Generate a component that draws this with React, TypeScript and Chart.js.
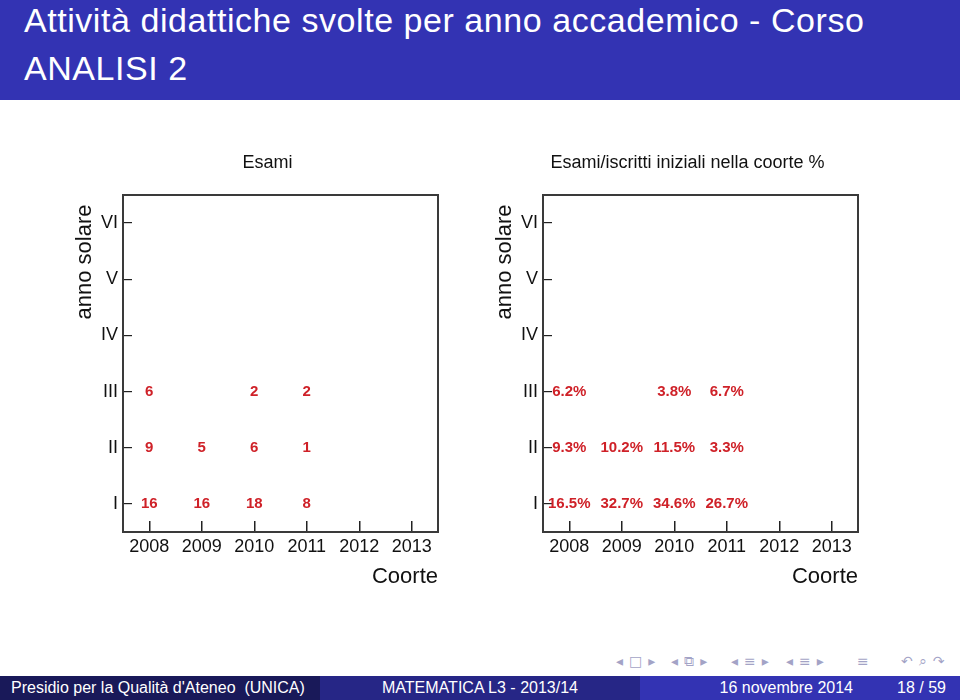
import React, { useEffect, useRef } from "react";
import { Chart, registerables } from "chart.js";

Chart.register(...registerables);

// ---- data ----
const cohorts = [2008, 2009, 2010, 2011, 2012, 2013];
const yearLabels = ["I", "II", "III", "IV", "V", "VI"];

const examsYearI = [16, 16, 18, 8];
const examsYearII = [9, 5, 6, 1];
const examsYearIII = [6, null, 2, 2];

const pctYearI = [16.5, 32.7, 34.6, 26.7];
const pctYearII = [9.3, 10.2, 11.5, 3.3];
const pctYearIII = [6.2, null, 3.8, 6.7];

const leftTitle = "Esami";
const rightTitle = "Esami/iscritti iniziali nella coorte %";
const yTitle = "anno solare";
const xTitle = "Coorte";

const slideTitle1 = "Attività didattiche svolte per anno accademico - Corso";
const slideTitle2 = "ANALISI 2";
const footLeft = "Presidio per la Qualità d'Ateneo  (UNICA)";
const footMid = "MATEMATICA L3 - 2013/14";
const footDate = "16 novembre 2014";
const footPage = "18 / 59";

const PLOT_FONT = '"Liberation Sans", Arial, Helvetica, sans-serif';
const SLIDE_FONT = '"Liberation Sans", Arial, sans-serif';
const RED = "#cf2128";
const INK = "#111111";

type Row = (number | null)[];

function buildPoints(rows: Row[]) {
  const pts: { x: number; y: number; v: number }[] = [];
  rows.forEach((row, r) =>
    row.forEach((v, i) => {
      if (v != null) pts.push({ x: cohorts[i], y: r + 1, v });
    })
  );
  return pts;
}

function CohortChart(props: {
  left: number;
  title: string;
  rows: Row[];
  format: (v: number) => string;
}) {
  const ref = useRef<HTMLCanvasElement | null>(null);
  useEffect(() => {
    const fmt = props.format;
    const chartTitle = props.title;
    const decorations = {
      id: "decorations",
      afterDraw(chart: any) {
        const { ctx, chartArea } = chart;
        ctx.save();
        ctx.strokeStyle = "#3a3a3a";
        ctx.lineWidth = 2;
        ctx.strokeRect(
          chartArea.left,
          chartArea.top,
          chartArea.right - chartArea.left,
          chartArea.bottom - chartArea.top
        );
        ctx.fillStyle = INK;
        ctx.font = `18px ${PLOT_FONT}`;
        ctx.textAlign = "center";
        ctx.textBaseline = "middle";
        ctx.fillText(chartTitle, (chartArea.left + chartArea.right) / 2 - 13, chartArea.top - 32);
        ctx.font = `22px ${PLOT_FONT}`;
        ctx.translate(chartArea.left - 38, chartArea.top + 67);
        ctx.rotate(-Math.PI / 2);
        ctx.textAlign = "center";
        ctx.textBaseline = "middle";
        ctx.fillText(yTitle, 0, 0);
        ctx.restore();
      },
    };
    const valueLabels = {
      id: "valueLabels",
      afterDatasetsDraw(chart: any) {
        const ctx = chart.ctx;
        const meta = chart.getDatasetMeta(0);
        const data = chart.data.datasets[0].data;
        ctx.save();
        ctx.font = `bold 15px ${PLOT_FONT}`;
        ctx.fillStyle = RED;
        ctx.textAlign = "center";
        ctx.textBaseline = "middle";
        meta.data.forEach((el: any, i: number) => {
          ctx.fillText(fmt(data[i].v), el.x, el.y);
        });
        ctx.restore();
      },
    };
    const chart = new Chart(ref.current as HTMLCanvasElement, {
      type: "scatter",
      data: {
        datasets: [
          {
            data: buildPoints(props.rows) as any,
            pointRadius: 0,
            pointHoverRadius: 0,
            showLine: false,
          },
        ],
      },
      options: {
        responsive: false,
        animation: false,
        events: [],
        layout: { padding: { top: 55, right: 22, bottom: 0, left: 0 } },
        plugins: {
          legend: { display: false },
          tooltip: { enabled: false },
          title: { display: false },
        },
        scales: {
          x: {
            type: "linear",
            min: 2007.5,
            max: 2013.5,
            afterBuildTicks: (s: any) => {
              s.ticks = cohorts.map((v) => ({ value: v }));
            },
            afterFit: (s: any) => {
              s.height = 68;
            },
            ticks: {
              callback: (v: any) => String(v),
              font: { size: 18, family: PLOT_FONT },
              color: INK,
              padding: 15,
              maxRotation: 0,
              autoSkip: false,
            },
            grid: {
              display: true,
              drawOnChartArea: false,
              drawTicks: true,
              tickLength: -11,
              color: "#222",
              lineWidth: 1.5,
            },
            border: { display: false },
            title: {
              display: true,
              text: xTitle,
              align: "end",
              color: INK,
              font: { size: 22, family: PLOT_FONT },
              padding: { top: 0, bottom: 10 },
            },
          },
          y: {
            type: "linear",
            min: 0.5,
            max: 6.5,
            afterBuildTicks: (s: any) => {
              s.ticks = yearLabels.map((_, i) => ({ value: i + 1 }));
            },
            afterFit: (s: any) => {
              s.width = 55;
            },
            ticks: {
              callback: (v: any) => yearLabels[Math.round(v) - 1],
              font: { size: 18, family: PLOT_FONT },
              color: INK,
              padding: 14,
              autoSkip: false,
            },
            grid: {
              display: true,
              drawOnChartArea: false,
              drawTicks: true,
              tickLength: -9,
              color: "#222",
              lineWidth: 1.2,
            },
            border: { display: false },
          },
        },
      },
      plugins: [valueLabels, decorations],
    } as any);
    return () => chart.destroy();
  }, []);
  return (
    <div style={{ position: "absolute", left: props.left, top: 140, width: 392, height: 460 }}>
      <canvas ref={ref} width={392} height={460} style={{ width: 392, height: 460, display: "block" }} />
    </div>
  );
}

const navGroups: { left: number; text: string }[] = [
  { left: 616, text: "◂ □ ▸" },
  { left: 671, text: "◂ ⧉ ▸" },
  { left: 731, text: "◂ ≡ ▸" },
  { left: 786, text: "◂ ≡ ▸" },
  { left: 857, text: "≡" },
  { left: 901, text: "↶ ⌕ ↷" },
];

export default function App() {
  const footText: React.CSSProperties = {
    position: "absolute",
    top: 676,
    height: 24,
    lineHeight: "24px",
    fontSize: 16,
    color: "#ffffff",
    whiteSpace: "pre",
  };
  return (
    <div
      style={{
        position: "fixed",
        left: 0,
        top: 0,
        width: 960,
        height: 700,
        background: "#ffffff",
        overflow: "hidden",
        fontFamily: SLIDE_FONT,
      }}
    >
      <div style={{ position: "absolute", left: 0, top: 0, width: 960, height: 100, background: "#3333b3" }} />
      <div
        style={{
          position: "absolute",
          left: 24,
          top: -4,
          color: "#ffffff",
          fontSize: 34,
          letterSpacing: 0.55,
          lineHeight: "48px",
          whiteSpace: "nowrap",
        }}
      >
        {slideTitle1}
        <br />
        {slideTitle2}
      </div>

      <CohortChart left={68} title={leftTitle} rows={[examsYearI, examsYearII, examsYearIII]} format={(v) => String(v)} />
      <CohortChart
        left={488}
        title={rightTitle}
        rows={[pctYearI, pctYearII, pctYearIII]}
        format={(v) => v.toFixed(1) + "%"}
      />

      {navGroups.map((g, i) => (
        <div
          key={i}
          style={{
            position: "absolute",
            top: 652,
            left: g.left,
            fontFamily: '"DejaVu Sans", sans-serif',
            fontSize: 14,
            lineHeight: "18px",
            letterSpacing: 0.8,
            color: "#a3a3c6",
            whiteSpace: "pre",
          }}
        >
          {g.text}
        </div>
      ))}

      <div style={{ position: "absolute", left: 0, top: 676, width: 320, height: 24, background: "#191959" }} />
      <div style={{ position: "absolute", left: 320, top: 676, width: 320, height: 24, background: "#262686" }} />
      <div style={{ position: "absolute", left: 640, top: 676, width: 320, height: 24, background: "#3333b3" }} />
      <div style={{ ...footText, left: 11 }}>{footLeft}</div>
      <div style={{ ...footText, left: 320, width: 320, textAlign: "center" }}>{footMid}</div>
      <div style={{ ...footText, right: 107 }}>{footDate}</div>
      <div style={{ ...footText, right: 14 }}>{footPage}</div>
    </div>
  );
}
